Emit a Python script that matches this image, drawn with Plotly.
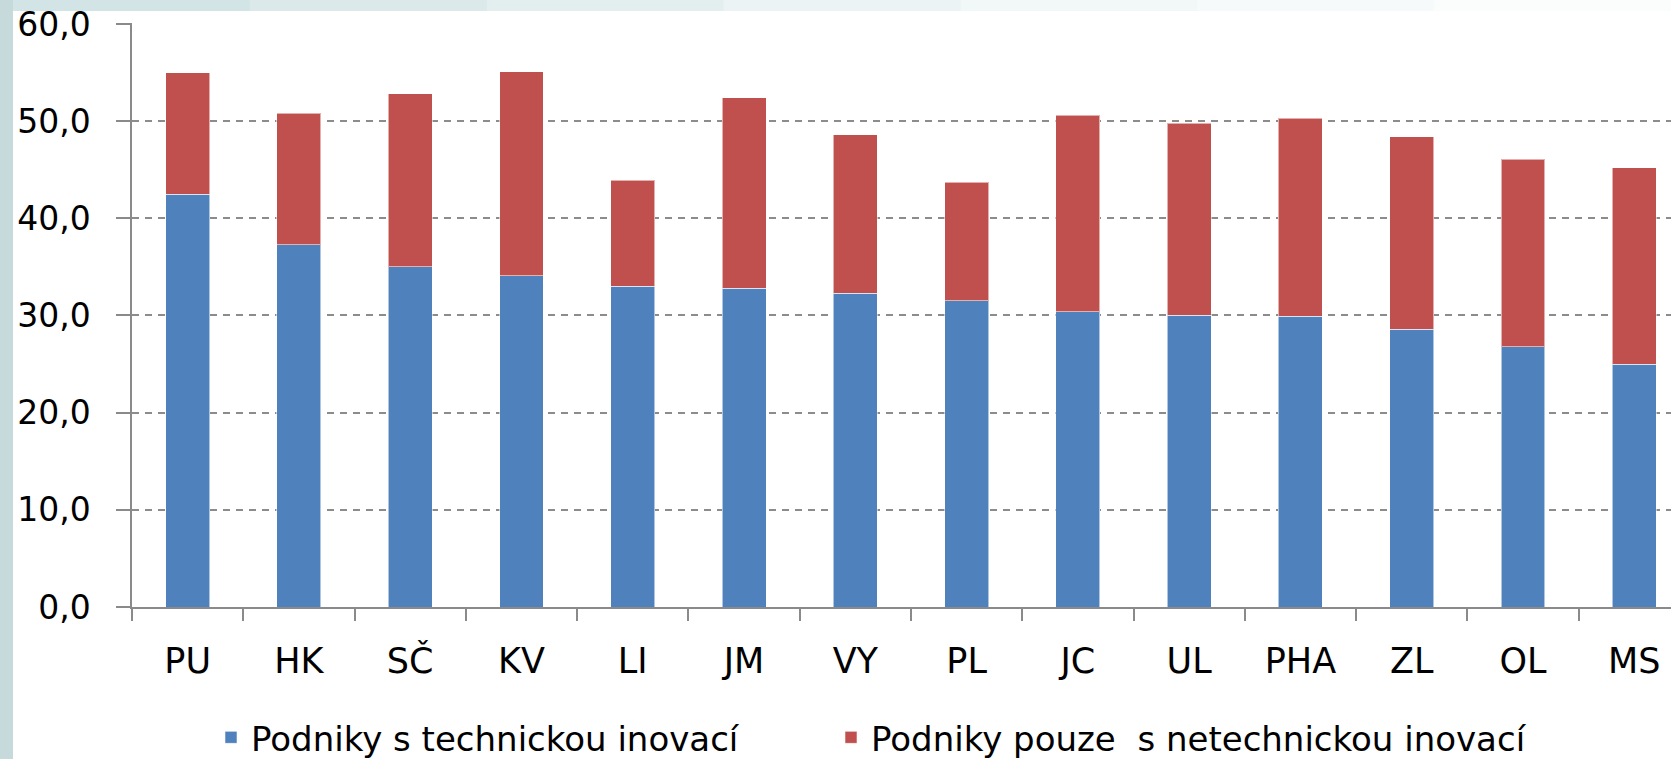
import plotly.graph_objects as go

regions = ["PU", "HK", "SČ", "KV", "LI", "JM", "VY", "PL", "JC", "UL", "PHA", "ZL", "OL", "MS"]
tech = [42.5, 37.3, 35.0, 34.1, 33.0, 32.8, 32.3, 31.5, 30.4, 30.0, 29.9, 28.6, 26.8, 25.0]
nontech = [12.5, 13.5, 17.8, 21.0, 10.9, 19.6, 16.3, 12.2, 20.2, 19.8, 20.4, 19.8, 19.3, 20.2]
y_ticks = [0, 10, 20, 30, 40, 50, 60]
y_tick_labels = ["0,0", "10,0", "20,0", "30,0", "40,0", "50,0", "60,0"]
series_names = ["Podniky s technickou inovací", "Podniky pouze  s netechnickou inovací"]

FONT = "DejaVu Sans"
W, H = 1671, 759
ML, MR, MT, MB = 132, 0, 23, 152
PW = W - ML - MR
PH = H - MT - MB

def px_x(x):
    return (x - ML) / PW

def px_y(y):
    return (H - MB - y) / PH

fig = go.Figure()
fig.add_trace(go.Bar(x=regions, y=tech, name=series_names[0], legend="legend",
                     marker=dict(color="#4f81bd", line=dict(color="rgba(255,255,255,0.55)", width=1))))
fig.add_trace(go.Bar(x=regions, y=nontech, name=series_names[1], legend="legend2",
                     marker=dict(color="#c0504d", line=dict(color="rgba(255,255,255,0.55)", width=1))))

shapes = [
    dict(type="rect", xref="paper", yref="paper", x0=px_x(13), x1=px_x(W), y0=px_y(11), y1=px_y(H),
         fillcolor="white", line=dict(width=0), layer="below"),
    dict(type="rect", xref="paper", yref="paper", x0=px_x(0), x1=px_x(13), y0=px_y(0), y1=px_y(H),
         fillcolor="#c6dadc", line=dict(width=0), layer="below"),
]
top_cols = ["#d3e4e6", "#dbe9ea", "#e3eeef", "#ebf3f4", "#f2f7f8", "#f7fafb", "#fbfdfd"]
step = (W - 13) / len(top_cols)
for i, c in enumerate(top_cols):
    shapes.append(dict(type="rect", xref="paper", yref="paper",
                       x0=px_x(13 + i * step), x1=px_x(13 + (i + 1) * step + 1),
                       y0=px_y(11), y1=px_y(0), fillcolor=c, line=dict(width=0), layer="below"))

legend_common = dict(orientation="h", xref="container", yref="container",
                     y=0.028, xanchor="left", yanchor="middle",
                     font=dict(size=34, family=FONT, color="#000000"),
                     bgcolor="rgba(0,0,0,0)")

fig.update_layout(
    barmode="stack",
    bargap=0.605,
    width=W, height=H,
    margin=dict(l=ML, r=MR, t=MT, b=MB, autoexpand=False),
    paper_bgcolor="#dbe9ea",
    plot_bgcolor="white",
    font=dict(family=FONT, color="#000000"),
    shapes=shapes,
    showlegend=True,
    legend=dict(x=211 / W, **legend_common),
    legend2=dict(x=831 / W, **legend_common),
)

fig.update_xaxes(
    type="category", range=[-0.5, 13.33],
    showline=True, linecolor="#8a8a8a", linewidth=1.5,
    ticks="outside", tickson="boundaries", ticklen=12, tickcolor="#8a8a8a", tickwidth=1.5,
    tickfont=dict(size=35, family=FONT, color="#000000"),
    ticklabelstandoff=22,
    showgrid=False,
)
fig.update_yaxes(
    range=[0, 60.1], tickvals=y_ticks, ticktext=y_tick_labels,
    showline=True, linecolor="#8a8a8a", linewidth=1.5,
    ticks="outside", ticklen=14, tickcolor="#8a8a8a", tickwidth=1.5,
    tickfont=dict(size=33, family=FONT, color="#000000"),
    ticklabelstandoff=19,
    showgrid=True, gridcolor="#8c8c8c", gridwidth=1.6, griddash="7px,6px",
    zeroline=False,
)

fig.write_html("out.html", config={"displayModeBar": False},
               post_script="document.body.style.margin='0px';document.body.style.overflow='hidden';")
